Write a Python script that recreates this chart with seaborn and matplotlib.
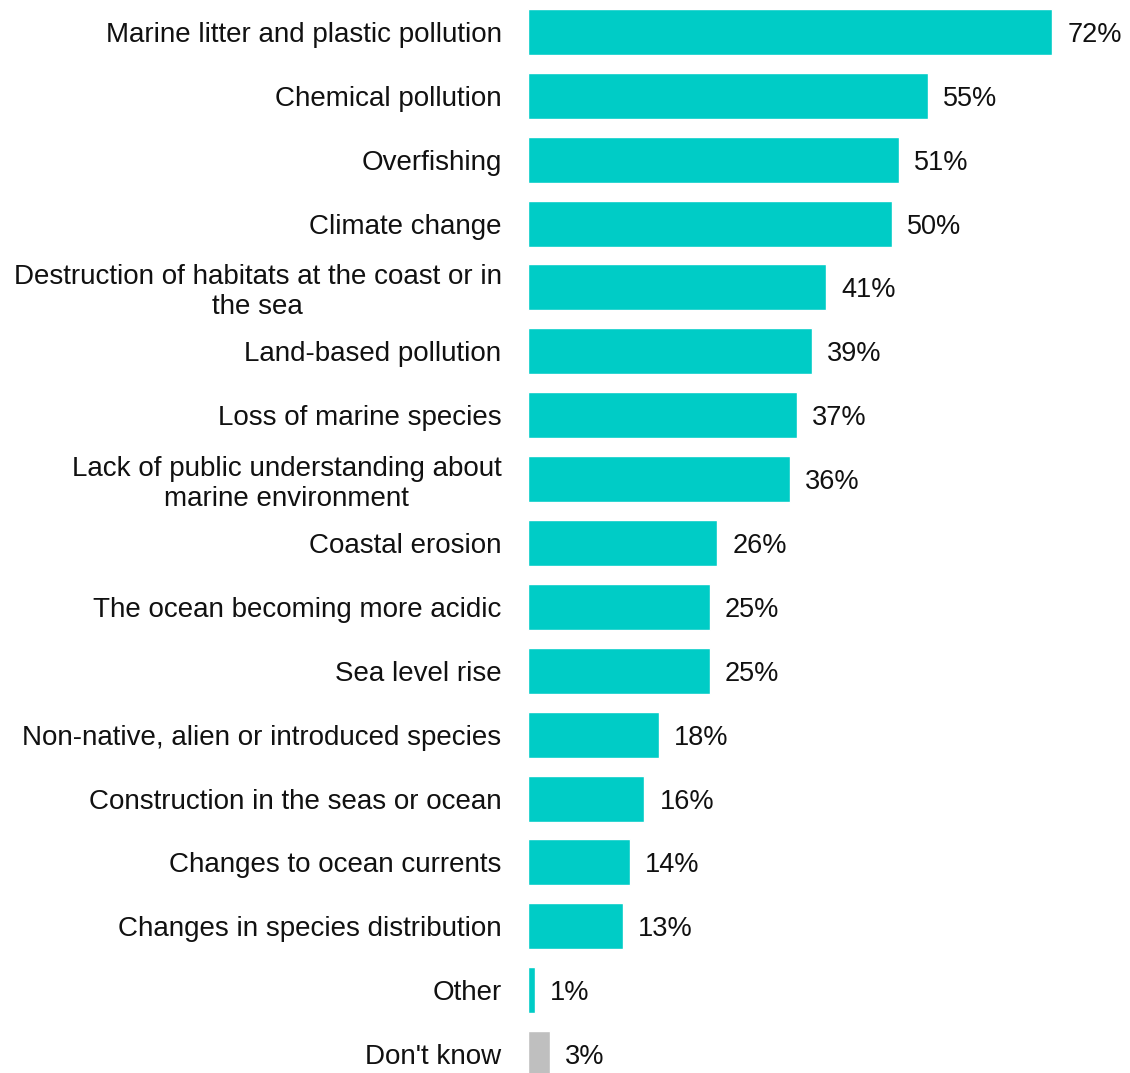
import matplotlib
matplotlib.use("Agg")
import matplotlib.pyplot as plt
import seaborn as sns
import pandas as pd

categories = [
    "Marine litter and plastic pollution",
    "Chemical pollution",
    "Overfishing",
    "Climate change",
    "Destruction of habitats at the coast or in\nthe sea",
    "Land-based pollution",
    "Loss of marine species",
    "Lack of public understanding about\nmarine environment",
    "Coastal erosion",
    "The ocean becoming more acidic",
    "Sea level rise",
    "Non-native, alien or introduced species",
    "Construction in the seas or ocean",
    "Changes to ocean currents",
    "Changes in species distribution",
    "Other",
    "Don't know",
]
values = [72, 55, 51, 50, 41, 39, 37, 36, 26, 25, 25, 18, 16, 14, 13, 1, 3]

TEAL = "#00CCC6"
GREY = "#BFBFBF"
colors = [TEAL] * (len(categories) - 1) + [GREY]

df = pd.DataFrame({"category": categories, "value": values})

sns.set_theme(style="white")
plt.rcParams["font.family"] = ["Liberation Sans", "DejaVu Sans"]

fig = plt.figure(figsize=(11.30, 10.73), dpi=100)
ax = fig.add_axes([528 / 1130, -13 / 1073, 602 / 1130, 1086 / 1073])

sns.barplot(data=df, x="value", y="category", hue="category",
            palette=colors, legend=False, width=0.72, ax=ax,
            order=categories, hue_order=categories, saturation=1)

ax.set_xlim(0, 602 / 7.28)
ax.set_ylim(16.5, -0.5)
for s in ax.spines.values():
    s.set_visible(False)
ax.set_xticks([])
ax.set_xlabel("")
ax.set_ylabel("")
ax.tick_params(axis="y", length=0, pad=19, labelsize=20, labelcolor="#111111")
for lbl in ax.get_yticklabels():
    lbl.set_horizontalalignment("right")
    lbl.set_multialignment("center")
    lbl.set_linespacing(1.2)

for i, v in enumerate(values):
    ax.annotate(f"{v}%", xy=(v, i), xytext=(15, -3), textcoords="offset pixels",
                va="center", ha="left", fontsize=19.5, color="#111111")

fig.savefig("out.png", dpi=100)
